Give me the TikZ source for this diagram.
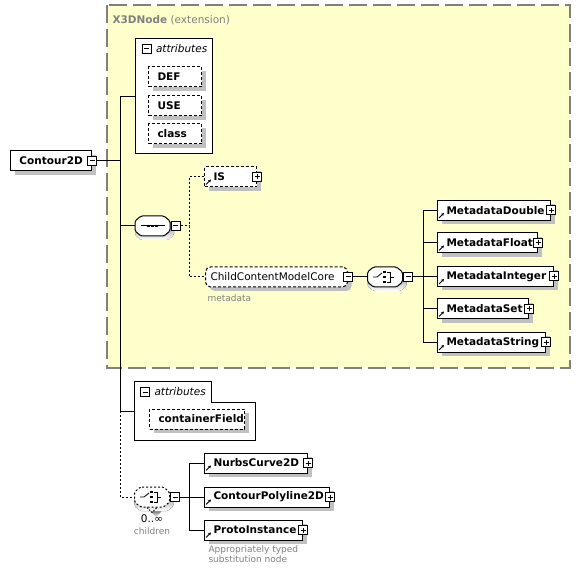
\documentclass[tikz,border=0pt]{standalone}
\usepackage{fontspec}
\setmainfont{DejaVu Sans}
\usetikzlibrary{positioning, arrows.meta, shadows}
\definecolor{extfill}{RGB}{255,255,204}
\definecolor{extline}{RGB}{128,128,128}
\definecolor{shade}{RGB}{192,192,192}
\definecolor{notegrey}{RGB}{128,128,128}

\begin{document}
\begin{tikzpicture}[
    x=1pt, y=-1pt,
    line width=1pt,
    every node/.style={font=\fontsize{10.5}{12}\selectfont, inner sep=0pt},
    elem/.style={
        draw,
        fill=white,
        anchor=west,
        minimum height=20pt,
        inner xsep=9pt,
        text width=#1,
        align=left,
        font=\fontsize{10.5}{12}\selectfont\bfseries,
        drop shadow={shadow xshift=4pt, shadow yshift=-4pt, fill=shade, opacity=1}
    },
    attr/.style={elem=#1, dash pattern=on 3pt off 2pt},
    group/.style={elem=#1, inner xsep=5pt, rounded corners=5pt,
        dash pattern=on 3pt off 2pt, font=\fontsize{10.5}{12}\selectfont},
    compositor/.style={minimum width=35pt, minimum height=20pt},
    collapsebox/.style={draw, fill=white, minimum size=9pt,
        path picture={\draw ([xshift=2pt]path picture bounding box.west)
            -- ([xshift=-2pt]path picture bounding box.east);}},
    expandbox/.style={draw, fill=white, minimum size=9pt,
        path picture={\draw ([xshift=2pt]path picture bounding box.west)
            -- ([xshift=-2pt]path picture bounding box.east)
            ([yshift=2pt]path picture bounding box.south)
            -- ([yshift=-2pt]path picture bounding box.north);}},
    attrbox/.style={draw, fill=white},
    attrtitle/.style={anchor=west, inner xsep=4pt,
        font=\fontsize{10.5}{12}\selectfont\itshape},
    extbox/.style={draw=extline, fill=extfill, line width=1.5pt,
        dash pattern=on 18pt off 6pt},
    extlabel/.style={anchor=west, text=extline},
    note/.style={text=notegrey, font=\fontsize{9}{10.5}\selectfont},
    refmark/.style={-{Stealth[length=3pt, width=3pt]}, line width=0.8pt},
    optlink/.style={dash pattern=on 2pt off 2pt},
    compframe/.pic={
        \fill[shade, rounded corners=1.5pt, solid] (-11.5,-6) -- (15.5,-6) -- (21.5,-1)
            -- (21.5,9) -- (15.5,14) -- (-11.5,14) -- (-17.5,9) -- (-17.5,-1) -- cycle;
        \draw[fill=white, rounded corners=1.5pt] (-11.5,-10) -- (11.5,-10) -- (17.5,-5)
            -- (17.5,5) -- (11.5,10) -- (-11.5,10) -- (-17.5,5) -- (-17.5,-5) -- cycle;
    },
    seqicon/.pic={
        \draw (-12,0) -- (12,0);
        \foreach \q in {-4,0,4}
            \fill (\q,0) +(-1.3,-1.3) rectangle +(1.3,1.3);
    },
    switchicon/.pic={
        \draw[line width=0.8pt, solid] (-12,0) -- (-8,0) -- (-3,-4);
        \foreach \q in {-5,0,5}
            \fill (-0.5,\q) +(-1.3,-1.3) rectangle +(1.3,1.3);
        \draw[line width=0.8pt, solid] (1.5,-5) -- (5,-5) -- (5,5) -- (1.5,5)
            (5,0) -- (9,0);
    }
]
    \useasboundingbox (0,0) rectangle (582,575);

    % extension area
    \draw[extbox] (107,5) rectangle (570,368);
    \node[extlabel] (ext) at (112,20) {\textbf{X3DNode} (extension)};

    % root element
    \node[elem=63pt] (contour) at (10,161) {Contour2D};
    \node[collapsebox] (contourx) at (contour.east) {};
    \coordinate (trunk) at (120,161);

    % inherited attributes
    \node[attrbox, minimum width=77pt, minimum height=115pt] (attr1) at (173.5,96.5) {};
    \node[collapsebox] (attr1x) at (146.5,49) {};
    \node[attrtitle] (attr1t) at (attr1x.east) {attributes};
    \node[attr=35pt] (def) at (148,77) {DEF};
    \node[attr=35pt] (use) at (148,106) {USE};
    \node[attr=35pt] (class) at (148,134) {class};

    % sequence
    \node[compositor] (seq) at (152.5,226) {};
    \pic at (seq) {compframe};
    \pic at (seq) {seqicon};
    \node[collapsebox, anchor=west] (seqx) at (seq.east) {};
    \coordinate (seqbus) at (189,226);
    \node[attr=34pt] (is) at (204,177) {IS};
    \node[expandbox] (isx) at (is.east) {};
    \node[group=132pt] (ccmc) at (205,277) {ChildContentModelCore};
    \node[collapsebox] (ccmcx) at (ccmc.east) {};
    \node[note, anchor=west] (ccmcnote) at (207,298) {metadata};

    % metadata choice
    \node[compositor] (cha) at (385,277) {};
    \pic at (cha) {compframe};
    \pic at (cha) {switchicon};
    \node[collapsebox, anchor=west] (chax) at (cha.east) {};
    \coordinate (mdbus) at (423,277);
    \node[elem=95pt] (mdd) at (437,210.5) {MetadataDouble};
    \node[elem=82pt] (mdf) at (437,243) {MetadataFloat};
    \node[elem=98pt] (mdi) at (437,276.5) {MetadataInteger};
    \node[elem=73pt] (mds) at (437,309) {MetadataSet};
    \node[elem=90pt] (mdst) at (437,342.5) {MetadataString};
    \foreach \m in {mdd,mdf,mdi,mds,mdst}
        \node[expandbox] (\m x) at (\m.east) {};

    % own attributes
    \node[minimum width=120pt, minimum height=58pt] (attr2) at (195,411) {};
    \draw[attrbox] (attr2.north west) -- ++(77,0) -- ++(0,21)
        -| (attr2.south east) -- (attr2.south west) -- cycle;
    \node[collapsebox] (attr2x) at (145,392) {};
    \node[attrtitle] (attr2t) at (attr2x.east) {attributes};
    \node[attr=77pt] (cf) at (149,419) {containerField};

    % children choice
    \node[compositor] (chb) at (152,497) {};
    \fill[shade] ([shift={(-1pt,-4pt)}]chb.south) -- ++(5pt,-5pt) -- ++(5pt,5pt) -- cycle;
    \pic[dash pattern=on 2pt off 2pt] at (chb) {compframe};
    \draw[line width=0.8pt, dash pattern=on 1.5pt off 1.5pt]
        ([xshift=-5pt]chb.south) -- ([yshift=-5pt]chb.south) -- ([xshift=5pt]chb.south);
    \pic at (chb) {switchicon};
    \node[collapsebox, anchor=west] (chbx) at (chb.east) {};
    \node (chbcard) at (152,519) {0..∞};
    \node[note, below=4pt of chbcard] (chbnote) {children};
    \coordinate (kidbus) at (189,497);
    \node[elem=85pt] (nurbs) at (204,463) {NurbsCurve2D};
    \node[elem=107pt] (cpl) at (204,497) {ContourPolyline2D};
    \node[elem=80pt] (proto) at (204,530) {ProtoInstance};
    \foreach \m in {nurbs,cpl,proto}
        \node[expandbox] (\m x) at (\m.east) {};
    \node[note, anchor=north west, align=left] (protonote) at (208,545)
        {Appropriately typed\\substitution node};

    % reference marks
    \foreach \n in {is,mdd,mdf,mdi,mds,mdst,nurbs,cpl,proto}
        \draw[refmark] ([shift={(2pt,3pt)}]\n.south west) -- ++(5pt,5pt);

    % connectors
    \draw (contourx.east) -- (trunk);
    \draw (trunk |- attr1) -- (trunk |- attr2);
    \draw (trunk |- attr1) -- (attr1.west);
    \draw (trunk |- seq) -- (seq.west);
    \draw (trunk |- attr2) -- (attr2.west);
    \draw[optlink] (trunk |- attr2) -- (trunk |- chb) -- (chb.west);
    \draw[optlink] (seqx.east) -- (seqbus);
    \draw[optlink] (is.west) -| (seqbus) |- (ccmc.west);
    \draw (ccmcx.east) -- (cha.west);
    \draw (chax.east) -- (mdbus);
    \draw (mdbus |- mdd) -- (mdbus |- mdst);
    \foreach \m in {mdd,mdf,mdi,mds,mdst}
        \draw (mdbus |- \m) -- (\m.west);
    \draw (chbx.east) -- (kidbus);
    \draw (kidbus |- nurbs) -- (kidbus |- proto);
    \foreach \m in {nurbs,cpl,proto}
        \draw (kidbus |- \m) -- (\m.west);

\end{tikzpicture}
\end{document}
